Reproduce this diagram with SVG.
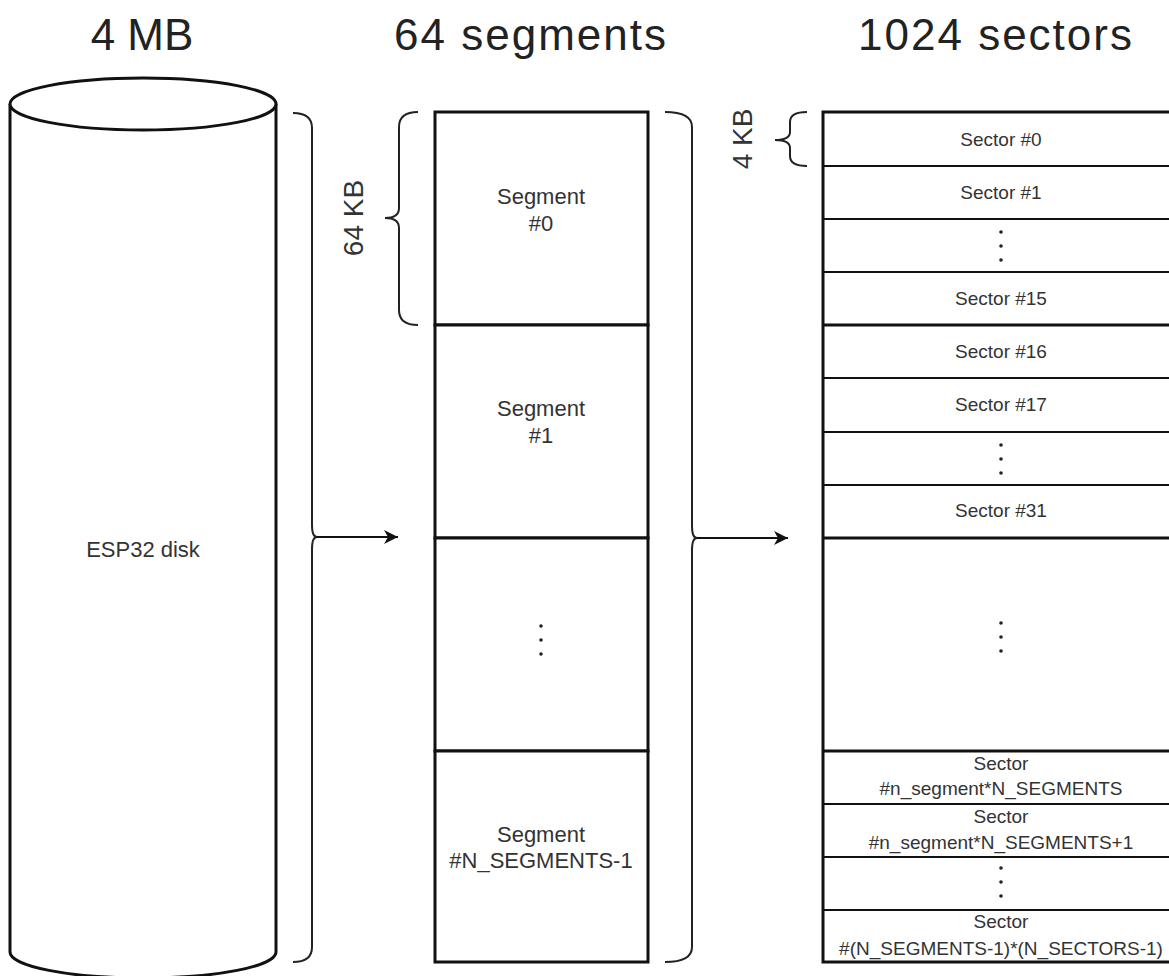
<svg xmlns="http://www.w3.org/2000/svg" width="1169" height="976" viewBox="0 0 1169 976">
  <style>
    .title { font-family: "Liberation Sans", Arial, sans-serif; font-size: 44px; fill: #222; text-anchor: middle; }
    .wide { letter-spacing: 2px; }
    .lbl { font-family: "Liberation Sans", Arial, sans-serif; font-size: 19px; fill: #333; text-anchor: middle; }
    .big { font-size: 22px; }
    .size { font-family: "Liberation Sans", Arial, sans-serif; font-size: 28px; fill: #333; text-anchor: middle; }
    .box { fill: #fff; stroke: #111; stroke-width: 3; }
    .sep { stroke: #111; stroke-width: 2; }
    .sepb { stroke: #111; stroke-width: 3; }
    .brace { fill: none; stroke: #222; stroke-width: 2; }
    .conn { fill: none; stroke: #111; stroke-width: 2; }
    .dot { fill: #222; }
  </style>
  <defs>
    <marker id="arrowhead" viewBox="0 0 14 14" refX="14" refY="7" markerWidth="14" markerHeight="14" markerUnits="userSpaceOnUse" orient="auto">
      <path d="M0,0 L14,7 L0,14 L4,7 z" fill="#111"/>
    </marker>
  </defs>

  <g id="titles">
    <text class="title" x="142" y="50">4 MB</text>
    <text class="title wide" x="531" y="50">64 segments</text>
    <text class="title wide" x="996" y="50">1024 sectors</text>
  </g>

  <g id="disk">
    <path d="M10,104 L10,952 A133,26 0 0 0 276,952 L276,104" fill="#fff" stroke="#111" stroke-width="3"/>
    <ellipse cx="143" cy="104" rx="133" ry="26" fill="#fff" stroke="#111" stroke-width="3"/>
    <text class="lbl big" x="143" y="557">ESP32 disk</text>
  </g>

  <g id="segments">
    <g id="segment-0">
      <rect class="box" x="435" y="112" width="213" height="213"/>
      <text class="lbl big" x="541" y="204">Segment</text>
      <text class="lbl big" x="541" y="231">#0</text>
    </g>
    <g id="segment-1">
      <rect class="box" x="435" y="325" width="213" height="213"/>
      <text class="lbl big" x="541" y="416">Segment</text>
      <text class="lbl big" x="541" y="443">#1</text>
    </g>
    <g id="segment-dots">
      <rect class="box" x="435" y="538" width="213" height="213"/>
      <circle class="dot" cx="541" cy="626" r="1.8"/>
      <circle class="dot" cx="541" cy="640" r="1.8"/>
      <circle class="dot" cx="541" cy="654" r="1.8"/>
    </g>
    <g id="segment-last">
      <rect class="box" x="435" y="751" width="213" height="211"/>
      <text class="lbl big" x="541" y="842">Segment</text>
      <text class="lbl big" x="541" y="868">#N_SEGMENTS-1</text>
    </g>
  </g>

  <g id="sectors">
    <rect class="box" x="823" y="112" width="356" height="850"/>
    <line class="sep" x1="823" y1="166" x2="1169" y2="166"/>
    <line class="sep" x1="823" y1="219" x2="1169" y2="219"/>
    <line class="sep" x1="823" y1="272" x2="1169" y2="272"/>
    <line class="sepb" x1="823" y1="325" x2="1169" y2="325"/>
    <line class="sep" x1="823" y1="378" x2="1169" y2="378"/>
    <line class="sep" x1="823" y1="432" x2="1169" y2="432"/>
    <line class="sep" x1="823" y1="485" x2="1169" y2="485"/>
    <line class="sepb" x1="823" y1="538" x2="1169" y2="538"/>
    <line class="sepb" x1="823" y1="751" x2="1169" y2="751"/>
    <line class="sep" x1="823" y1="804" x2="1169" y2="804"/>
    <line class="sep" x1="823" y1="857" x2="1169" y2="857"/>
    <line class="sep" x1="823" y1="910" x2="1169" y2="910"/>

    <g id="sector-0"><text class="lbl" x="1001" y="146">Sector #0</text></g>
    <g id="sector-1"><text class="lbl" x="1001" y="199">Sector #1</text></g>
    <g id="sector-dots-a">
      <circle class="dot" cx="1001" cy="232" r="1.8"/>
      <circle class="dot" cx="1001" cy="246" r="1.8"/>
      <circle class="dot" cx="1001" cy="260" r="1.8"/>
    </g>
    <g id="sector-15"><text class="lbl" x="1001" y="305">Sector #15</text></g>
    <g id="sector-16"><text class="lbl" x="1001" y="358">Sector #16</text></g>
    <g id="sector-17"><text class="lbl" x="1001" y="411">Sector #17</text></g>
    <g id="sector-dots-b">
      <circle class="dot" cx="1001" cy="445" r="1.8"/>
      <circle class="dot" cx="1001" cy="459" r="1.8"/>
      <circle class="dot" cx="1001" cy="473" r="1.8"/>
    </g>
    <g id="sector-31"><text class="lbl" x="1001" y="517">Sector #31</text></g>
    <g id="sector-dots-c">
      <circle class="dot" cx="1001" cy="623" r="1.8"/>
      <circle class="dot" cx="1001" cy="637" r="1.8"/>
      <circle class="dot" cx="1001" cy="651" r="1.8"/>
    </g>
    <g id="sector-n">
      <text class="lbl" x="1001" y="770">Sector</text>
      <text class="lbl" x="1001" y="795">#n_segment*N_SEGMENTS</text>
    </g>
    <g id="sector-n1">
      <text class="lbl" x="1001" y="823">Sector</text>
      <text class="lbl" x="1001" y="849">#n_segment*N_SEGMENTS+1</text>
    </g>
    <g id="sector-dots-d">
      <circle class="dot" cx="1001" cy="868" r="1.8"/>
      <circle class="dot" cx="1001" cy="882" r="1.8"/>
      <circle class="dot" cx="1001" cy="896" r="1.8"/>
    </g>
    <g id="sector-last">
      <text class="lbl" x="1001" y="928">Sector</text>
      <text class="lbl" x="1001" y="955">#(N_SEGMENTS-1)*(N_SECTORS-1)</text>
    </g>
  </g>

  <g id="size-labels">
    <text class="size" transform="translate(363,218) rotate(-90)">64 KB</text>
    <text class="size" transform="translate(752,139) rotate(-90)">4 KB</text>
  </g>

  <g id="connectors">
    <path class="brace" d="M293,113 Q312,113 312,128 L312,525 Q312,537 317,537 Q312,537 312,549 L312,947 Q312,962 293,962"/>
    <path class="brace" d="M418,112 Q399,112 399,127 L399,208 Q399,218 385,218 Q399,218 399,228 L399,310 Q399,325 418,325"/>
    <path class="brace" d="M665,112 Q692,112 692,127 L692,526 Q692,538 697,538 Q692,538 692,550 L692,947 Q692,962 665,962"/>
    <path class="brace" d="M807,112 Q790,112 790,122 L790,132 Q790,140 775,140 Q790,140 790,148 L790,156 Q790,166 807,166"/>
    <line class="conn" x1="317" y1="537" x2="398" y2="537" marker-end="url(#arrowhead)"/>
    <line class="conn" x1="697" y1="538" x2="788" y2="538" marker-end="url(#arrowhead)"/>
  </g>
</svg>
